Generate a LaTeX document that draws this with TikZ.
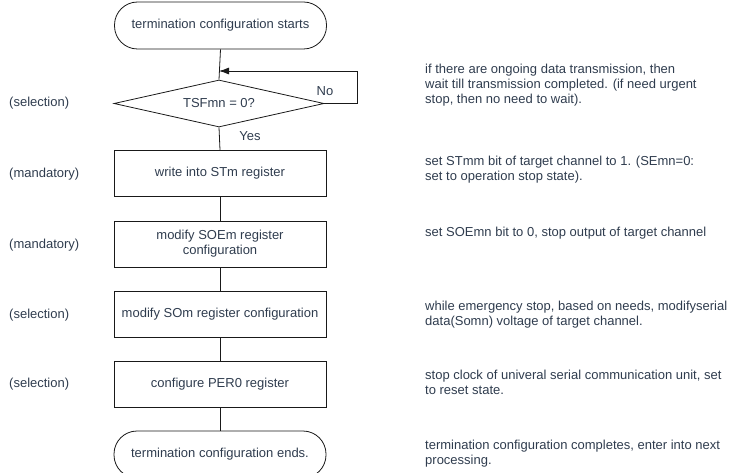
\documentclass[tikz,border=0pt]{standalone}
\usepackage{fontspec}
\setmainfont{Liberation Sans}
\usetikzlibrary{shapes.geometric,arrows.meta}
\definecolor{txt}{RGB}{47,60,78}
\definecolor{ln}{RGB}{25,25,25}
\begin{document}
\begin{tikzpicture}[x=1pt,y=-1pt,
  font=\fontsize{13pt}{15pt}\selectfont,
  every node/.style={text=txt},
  term/.style={draw=ln,line width=0.8pt,rounded corners=23pt,minimum width=212pt,minimum height=47pt,inner sep=0pt,align=center},
  proc/.style={draw=ln,line width=0.8pt,minimum width=212pt,minimum height=46pt,inner sep=0pt,align=center},
  dec/.style={draw=ln,line width=0.8pt,diamond,aspect=4.47,minimum width=210pt,minimum height=47pt,inner sep=0pt},
  conn/.style={draw=ln,line width=0.8pt},
  side/.style={anchor=west,inner sep=0pt},
  note/.style={anchor=west,inner sep=0pt,align=left}]
\useasboundingbox (0,0) rectangle (735,473);
\node[term] (s) at (220.5,25.5) {termination configuration starts};
\node[dec] (d) at (219,103.5) {TSFmn = 0?};
\node[proc] (b1) at (220,173.5) {write into STm register};
\node[proc] (b2) at (220,244) {modify SOEm register\\configuration};
\node[proc] (b3) at (220,314) {modify SOm register configuration};
\node[proc] (b4) at (220,384.5) {configure PER0 register};
\node[term] (e) at (220,454.5) {termination configuration ends.};
\coordinate (m) at (219,71);
\coordinate (r1) at (357,103.5);
\coordinate (r2) at (357,71);
\draw[conn] (s.south) -- (d.north);
\draw[conn,-{Latex[length=10pt,width=7pt]}] (d.east) -- (r1) -- (r2) -- (m);
\draw[conn] (d.south) -- (b1.north);
\draw[conn] (b1.south) -- (b2.north);
\draw[conn] (b2.south) -- (b3.north);
\draw[conn] (b3.south) -- (b4.north);
\draw[conn] (b4.south) -- (e.north);
\node (no) at (325,91) {No};
\node (yes) at (250,136) {Yes};
\node[side] (l1) at (9,103) {(selection)};
\node[side] (l2) at (9,174) {(mandatory)};
\node[side] (l3) at (9,245) {(mandatory)};
\node[side] (l4) at (9,315) {(selection)};
\node[side] (l5) at (9,384) {(selection)};
\node[note] (n1) at (425,85) {if there are ongoing data transmission, then\\wait till transmission completed. (if need urgent\\stop, then no need to wait).};
\node[note] (n2) at (425,169.5) {set STmm bit of target channel to 1. (SEmn=0:\\set to operation stop state).};
\node[note] (n3) at (425,233) {set SOEmn bit to 0, stop output of target channel};
\node[note] (n4) at (425,314.5) {while emergency stop, based on needs, modifyserial\\data(Somn) voltage of target channel.};
\node[note] (n5) at (425,382.5) {stop clock of univeral serial communication unit, set\\to reset state.};
\node[note] (n6) at (425,453.5) {termination configuration completes, enter into next\\processing.};
\end{tikzpicture}
\end{document}
